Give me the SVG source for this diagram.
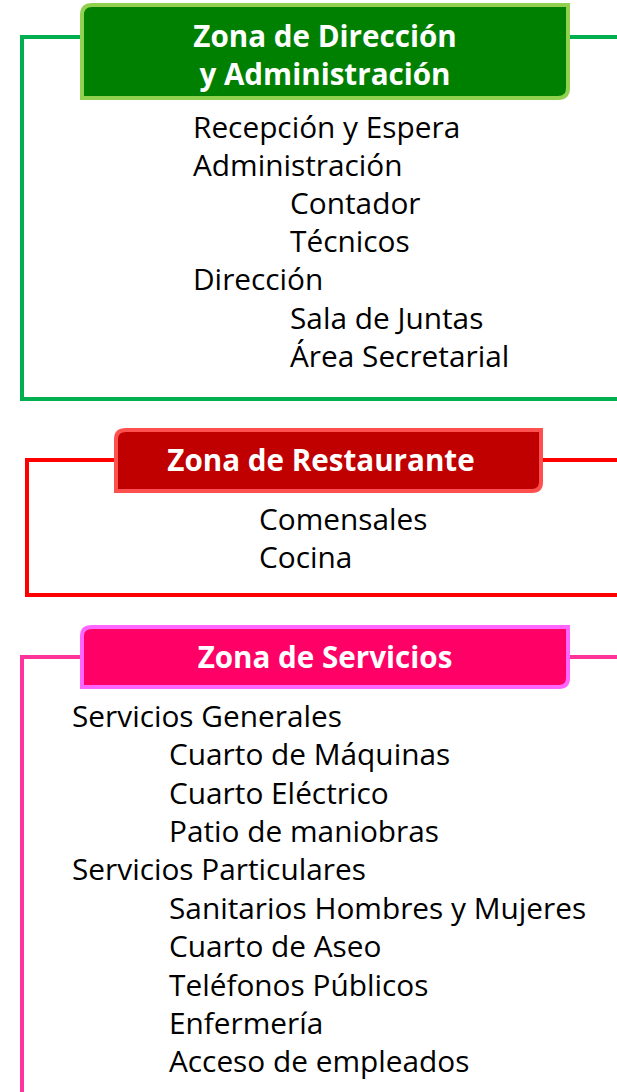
<svg xmlns="http://www.w3.org/2000/svg" width="617" height="1092" viewBox="0 0 617 1092">
<style>
.body{font-family:"Open Sans","Noto Sans","Liberation Sans",sans-serif;font-size:29.8px;fill:#000}
.title{font-family:"Open Sans","Noto Sans","Liberation Sans",sans-serif;font-size:29.6px;font-weight:bold;fill:#fff;text-anchor:middle}
.frame{fill:none;stroke-width:4;stroke-linejoin:miter}
</style>
<rect width="617" height="1092" fill="#fff"/>
<g id="connectors">
<path class="frame" stroke="#00B050" d="M82,37 H22 V399 H617 M568,37 H617"/>
<path class="frame" stroke="#FF0000" d="M116,460 H27 V595 H617 M542,460 H617"/>
<path class="frame" stroke="#FF3399" d="M82,657 H22 V1092 M568,657 H617"/>
</g>
<g id="zona-direccion">
<path d="M92,5 H568 V88 Q568,98 558,98 H82 V15 Q82,5 92,5 Z" fill="#008000" stroke="#92D050" stroke-width="4"/>
<text class="title" x="325" y="47">Zona de Dirección</text>
<text class="title" x="325" y="85">y Administración</text>
<text class="body" x="193" y="138">Recepción y Espera</text>
<text class="body" x="193" y="176">Administración</text>
<text class="body" x="290" y="214">Contador</text>
<text class="body" x="290" y="252">Técnicos</text>
<text class="body" x="193" y="290">Dirección</text>
<text class="body" x="290" y="329">Sala de Juntas</text>
<text class="body" x="290" y="367">Área Secretarial</text>
</g>
<g id="zona-restaurante">
<path d="M126,430 H541 V482 Q541,491 532,491 H116 V439 Q116,430 126,430 Z" fill="#C00000" stroke="#FF5050" stroke-width="4"/>
<text class="title" x="321" y="471">Zona de Restaurante</text>
<text class="body" x="259" y="530">Comensales</text>
<text class="body" x="259" y="568">Cocina</text>
</g>
<g id="zona-servicios">
<path d="M92,627 H568 V678 Q568,687 559,687 H82 V636 Q82,627 92,627 Z" fill="#FF0066" stroke="#FF66FF" stroke-width="4"/>
<text class="title" x="325" y="668">Zona de Servicios</text>
<text class="body" x="72" y="727">Servicios Generales</text>
<text class="body" x="169" y="765">Cuarto de Máquinas</text>
<text class="body" x="169" y="804">Cuarto Eléctrico</text>
<text class="body" x="169" y="842">Patio de maniobras</text>
<text class="body" x="72" y="880">Servicios Particulares</text>
<text class="body" x="169" y="919">Sanitarios Hombres y Mujeres</text>
<text class="body" x="169" y="957">Cuarto de Aseo</text>
<text class="body" x="169" y="996">Teléfonos Públicos</text>
<text class="body" x="169" y="1034">Enfermería</text>
<text class="body" x="169" y="1072">Acceso de empleados</text>
</g>
</svg>
